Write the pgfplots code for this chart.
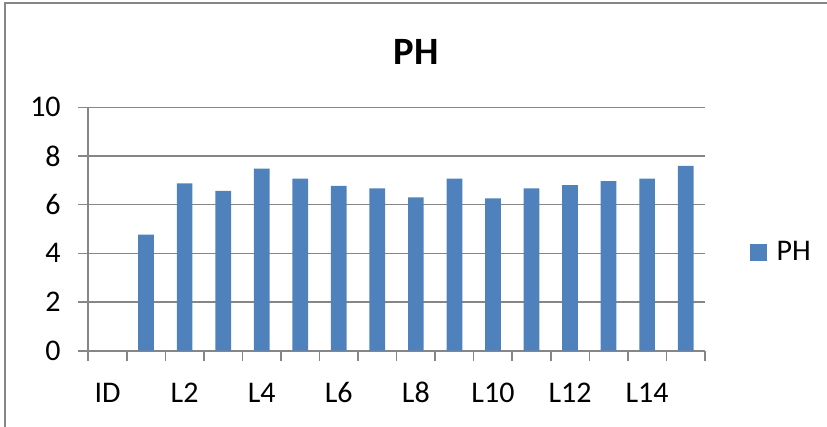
\documentclass[border=0pt]{standalone}
\usepackage{fontspec}
\setmainfont{Carlito}
\usepackage{pgfplots}
\pgfplotsset{compat=1.18}
\definecolor{barblue}{HTML}{4F81BD}
\definecolor{gridgray}{HTML}{868686}
\begin{document}
\begin{tikzpicture}
\useasboundingbox (0pt,0pt) rectangle (620.25pt,320.25pt);
\draw[gridgray,line width=1pt] (3.75pt,0pt) -- (3.75pt,318pt) -- (622pt,318pt);
\node[anchor=base,font=\fontsize{29}{34}\selectfont\bfseries] at (312pt,271.5pt) {PH};
\begin{axis}[
  at={(66.2pt,57.2pt)}, anchor=south west,
  scale only axis, width=462.5pt, height=182.55pt,
  xmin=-0.5, xmax=15.5, ymin=0, ymax=10,
  ytick={0,2,...,10},
  xtick={0,2,...,14},
  xticklabels={ID,L2,L4,L6,L8,L10,L12,L14},
  minor xtick={-0.5,0.5,...,15.5},
  major x tick style={draw=none},
  minor x tick style={gridgray,line width=1.2pt},
  y tick style={gridgray,line width=1.2pt},
  tick align=outside,
  major tick length=7.5pt, minor tick length=7.5pt,
  axis x line*=bottom, axis y line*=left,
  axis line style={gridgray,line width=1.2pt,-},
  ymajorgrids, grid style={gridgray,line width=1.2pt},
  /pgf/number format/assume math mode=true,
  ticklabel style={font=\fontsize{22.5}{27}\selectfont},
  yticklabel style={inner sep=0pt, xshift=-13pt},
  xticklabel style={inner sep=0pt, anchor=base, yshift=-31.5pt},
  ybar, bar width=11.8pt,
  legend style={at={(1.073,0.405)}, anchor=west, draw=none, fill=none, inner sep=0pt,
    font=\fontsize{22.5}{27}\selectfont},
  legend image code/.code={\fill[barblue] (0pt,-6.4pt) rectangle (12.75pt,6.4pt);},
  legend cell align=left,
]
\addplot[fill=barblue, draw=none] coordinates {
(1,4.77) (2,6.88) (3,6.57) (4,7.48) (5,7.07) (6,6.77) (7,6.67) (8,6.30)
(9,7.07) (10,6.26) (11,6.67) (12,6.80) (13,6.97) (14,7.07) (15,7.59)
};
\addlegendentry{\hspace*{5pt}PH}
\end{axis}
\end{tikzpicture}
\end{document}
